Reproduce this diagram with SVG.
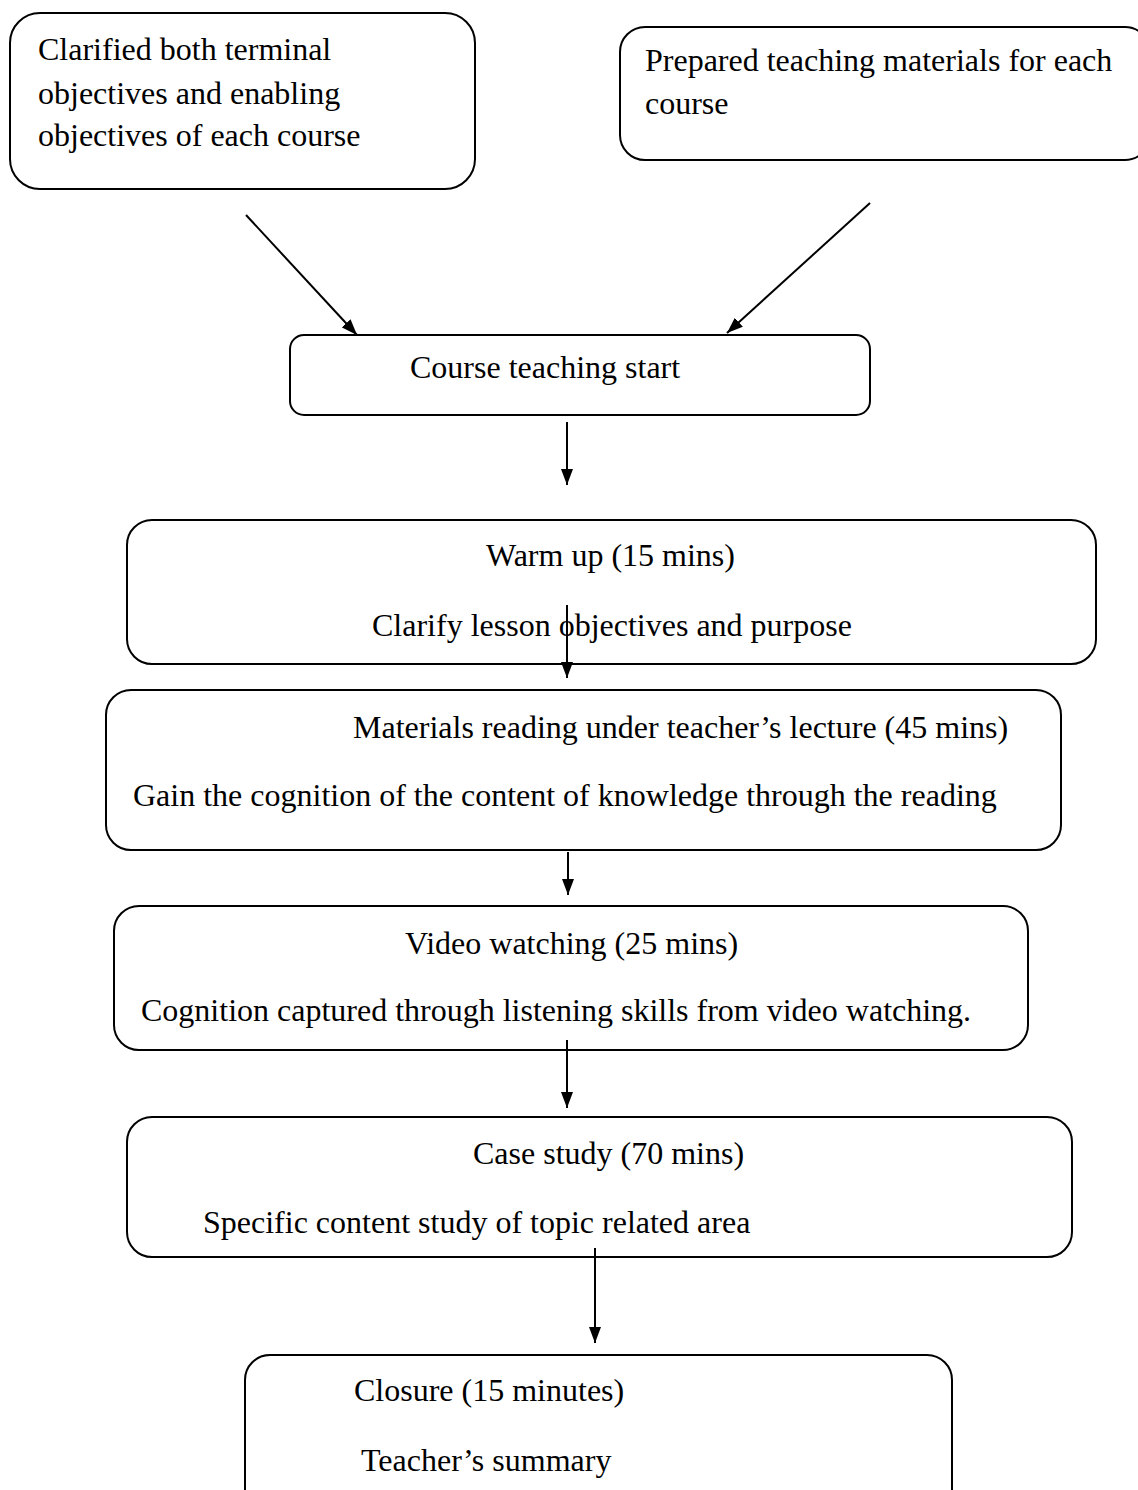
<svg xmlns="http://www.w3.org/2000/svg" width="1138" height="1490" viewBox="0 0 1138 1490">
<defs>
<marker id="ah" viewBox="0 0 16 12" refX="16" refY="6" markerWidth="16" markerHeight="12" markerUnits="userSpaceOnUse" orient="auto">
<path d="M0,0 L16,6 L0,12 z" fill="#000"/>
</marker>
</defs>
<style>
.box{fill:#fff;stroke:#000;stroke-width:2}
.t{font-family:"Liberation Serif","Times New Roman",serif;font-size:32px;fill:#000}
.c{stroke:#000;stroke-width:2;fill:none;marker-end:url(#ah)}
</style>
<rect width="1138" height="1490" fill="#fff"/>
<g id="n1"><rect class="box" x="10" y="13" width="465" height="176" rx="30"/>
<text class="t" x="38" y="60">Clarified both terminal</text>
<text class="t" x="38" y="104">objectives and enabling</text>
<text class="t" x="38" y="146">objectives of each course</text></g>
<g id="n2"><rect class="box" x="620" y="27" width="530" height="133" rx="25"/>
<text class="t" x="645" y="71">Prepared teaching materials for each</text>
<text class="t" x="645" y="114">course</text></g>
<g id="n3"><rect class="box" x="290" y="335" width="580" height="80" rx="14"/>
<text class="t" x="410" y="378">Course teaching start</text></g>
<g id="n4"><rect class="box" x="127" y="520" width="969" height="144" rx="25"/>
<text class="t" x="486" y="566">Warm up (15 mins)</text>
<text class="t" x="372" y="636">Clarify lesson objectives and purpose</text></g>
<g id="n5"><rect class="box" x="106" y="690" width="955" height="160" rx="25"/>
<text class="t" x="353" y="738">Materials reading under teacher’s lecture (45 mins)</text>
<text class="t" x="133" y="806">Gain the cognition of the content of knowledge through the reading</text></g>
<g id="n6"><rect class="box" x="114" y="906" width="914" height="144" rx="25"/>
<text class="t" x="405" y="954">Video watching (25 mins)</text>
<text class="t" x="141" y="1021">Cognition captured through listening skills from video watching.</text></g>
<g id="n7"><rect class="box" x="127" y="1117" width="945" height="140" rx="25"/>
<text class="t" x="473" y="1164">Case study (70 mins)</text>
<text class="t" x="203" y="1233">Specific content study of topic related area</text></g>
<g id="n8"><rect class="box" x="245" y="1355" width="707" height="160" rx="25"/>
<text class="t" x="354" y="1401">Closure (15 minutes)</text>
<text class="t" x="361" y="1471">Teacher’s summary</text></g>
<g id="connectors">
<line class="c" x1="246" y1="215" x2="357" y2="335"/>
<line class="c" x1="870" y1="203" x2="727" y2="333"/>
<line class="c" x1="567" y1="422" x2="567" y2="485"/>
<line class="c" x1="567" y1="605" x2="567" y2="678"/>
<line class="c" x1="568" y1="852" x2="568" y2="895"/>
<line class="c" x1="567" y1="1040" x2="567" y2="1108"/>
<line class="c" x1="595" y1="1248" x2="595" y2="1343"/>
</g>
</svg>
